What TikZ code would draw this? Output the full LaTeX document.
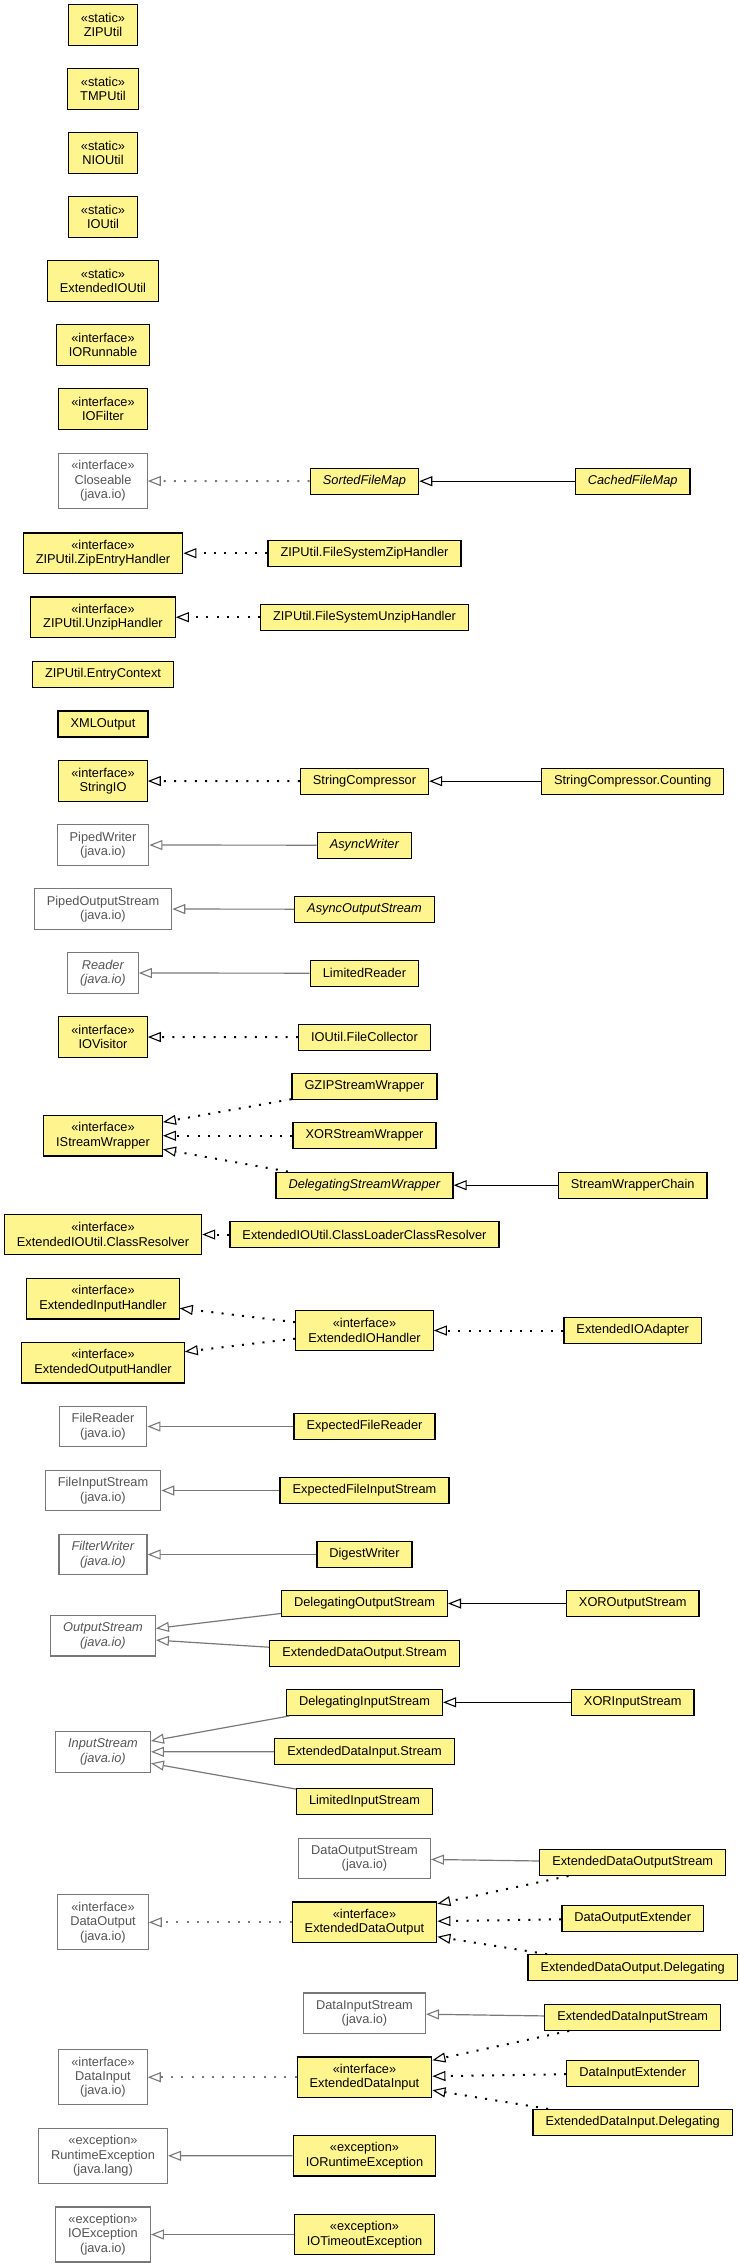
\documentclass[tikz,border=0pt]{standalone}
\usepackage{fontspec}
\setmainfont{Liberation Sans}
\usetikzlibrary{arrows.meta}
\tikzstyle{diagram} = [x = 1pt, y = -1pt, every node/.style={font=\fontsize{12.8}{14.4}\selectfont}]
\definecolor{classColor}{RGB}{255,245,143}
\definecolor{externalColor}{RGB}{120,120,120}
\definecolor{externalText}{RGB}{85,85,85}
\tikzstyle{boxStyle} = [align=center, inner xsep=12.5pt, inner ysep=0pt, minimum height=26pt]
\tikzstyle{classStyle} = [boxStyle, draw=black, fill=classColor, line width=1.3pt]
\tikzstyle{externalStyle} = [boxStyle, draw=externalColor, fill=white, text=externalText, line width=1.2pt]
\tikzstyle{twoLines} = [minimum height=40.6pt]
\tikzstyle{threeLines} = [minimum height=55pt]
\tikzstyle{extendsEdge} = [line width=1.2pt, -{Triangle[open, length=13pt, width=10pt, line width=1.1pt]}]
\tikzstyle{implementsEdge} = [extendsEdge, line width=2pt, dash pattern=on 2pt off 8.3pt]
\tikzstyle{externalEdge} = [color=externalColor]
\newcommand{\leftColumn}{103}
\newcommand{\middleColumn}{364.5}
\newcommand{\rightColumn}{632.7}
\newcommand{\classBox}[4]{\node [classStyle, #4] (#1) at (#2) {#3};}
\newcommand{\externalBox}[4]{\node [externalStyle, #4] (#1) at (#2) {#3};}

\begin{document}
\begin{tikzpicture}[diagram]
          \useasboundingbox (0,0) rectangle (739,2267);

          \classBox{zipUtil}{\leftColumn, 25}{«static»\\ZIPUtil}{twoLines}
          \classBox{tmpUtil}{\leftColumn, 89}{«static»\\TMPUtil}{twoLines}
          \classBox{nioUtil}{\leftColumn, 153}{«static»\\NIOUtil}{twoLines}
          \classBox{ioUtil}{\leftColumn, 217}{«static»\\IOUtil}{twoLines}
          \classBox{extendedIOUtil}{\leftColumn, 281}{«static»\\ExtendedIOUtil}{twoLines}
          \classBox{ioRunnable}{\leftColumn, 345}{«interface»\\IORunnable}{twoLines}
          \classBox{ioFilter}{\leftColumn, 409}{«interface»\\IOFilter}{twoLines}

          \externalBox{closeable}{\leftColumn, 481}{«interface»\\Closeable\\(java.io)}{threeLines}
          \classBox{sortedFileMap}{\middleColumn, 481.2}{\textit{SortedFileMap}}{}
          \classBox{cachedFileMap}{\rightColumn, 481.2}{\textit{CachedFileMap}}{}

          \classBox{zipEntryHandler}{\leftColumn, 553.2}{«interface»\\ZIPUtil.ZipEntryHandler}{twoLines}
          \classBox{fileSystemZipHandler}{\middleColumn, 553.2}{ZIPUtil.FileSystemZipHandler}{}
          \classBox{unzipHandler}{\leftColumn, 617.2}{«interface»\\ZIPUtil.UnzipHandler}{twoLines}
          \classBox{fileSystemUnzipHandler}{\middleColumn, 617.2}{ZIPUtil.FileSystemUnzipHandler}{}
          \classBox{entryContext}{\leftColumn, 674.5}{ZIPUtil.EntryContext}{}
          \classBox{xmlOutput}{\leftColumn, 723.9}{XMLOutput}{}

          \classBox{stringIO}{\leftColumn, 781}{«interface»\\StringIO}{twoLines}
          \classBox{stringCompressor}{\middleColumn, 781.2}{StringCompressor}{}
          \classBox{stringCompressorCounting}{\rightColumn, 781.2}{StringCompressor.Counting}{}

          \externalBox{pipedWriter}{\leftColumn, 845}{PipedWriter\\(java.io)}{twoLines}
          \classBox{asyncWriter}{\middleColumn, 845.2}{\textit{AsyncWriter}}{}
          \externalBox{pipedOutputStream}{\leftColumn, 909}{PipedOutputStream\\(java.io)}{twoLines}
          \classBox{asyncOutputStream}{\middleColumn, 909.2}{\textit{AsyncOutputStream}}{}
          \externalBox{reader}{\leftColumn, 973}{\textit{Reader}\\\textit{(java.io)}}{twoLines}
          \classBox{limitedReader}{\middleColumn, 973.2}{LimitedReader}{}
          \classBox{ioVisitor}{\leftColumn, 1037}{«interface»\\IOVisitor}{twoLines}
          \classBox{fileCollector}{\middleColumn, 1037.2}{IOUtil.FileCollector}{}

          \classBox{gzipStreamWrapper}{\middleColumn, 1086.2}{GZIPStreamWrapper}{}
          \classBox{iStreamWrapper}{\leftColumn, 1135.7}{«interface»\\IStreamWrapper}{twoLines}
          \classBox{xorStreamWrapper}{\middleColumn, 1135.7}{XORStreamWrapper}{}
          \classBox{delegatingStreamWrapper}{\middleColumn, 1185.2}{\textit{DelegatingStreamWrapper}}{}
          \classBox{streamWrapperChain}{\rightColumn, 1185.2}{StreamWrapperChain}{}

          \classBox{classResolver}{\leftColumn, 1234.5}{«interface»\\ExtendedIOUtil.ClassResolver}{twoLines}
          \classBox{classLoaderClassResolver}{\middleColumn, 1234.5}{ExtendedIOUtil.ClassLoaderClassResolver}{}

          \classBox{extendedInputHandler}{\leftColumn, 1298.7}{«interface»\\ExtendedInputHandler}{twoLines}
          \classBox{extendedIOHandler}{\middleColumn, 1330.5}{«interface»\\ExtendedIOHandler}{twoLines}
          \classBox{extendedIOAdapter}{\rightColumn, 1330.5}{ExtendedIOAdapter}{}
          \classBox{extendedOutputHandler}{\leftColumn, 1362.7}{«interface»\\ExtendedOutputHandler}{twoLines}

          \externalBox{fileReader}{\leftColumn, 1426.5}{FileReader\\(java.io)}{twoLines}
          \classBox{expectedFileReader}{\middleColumn, 1426.5}{ExpectedFileReader}{}
          \externalBox{fileInputStream}{\leftColumn, 1490.5}{FileInputStream\\(java.io)}{twoLines}
          \classBox{expectedFileInputStream}{\middleColumn, 1490.5}{ExpectedFileInputStream}{}
          \externalBox{filterWriter}{\leftColumn, 1554.5}{\textit{FilterWriter}\\\textit{(java.io)}}{twoLines}
          \classBox{digestWriter}{\middleColumn, 1554.5}{DigestWriter}{}

          \classBox{delegatingOutputStream}{\middleColumn, 1603.5}{DelegatingOutputStream}{}
          \classBox{xorOutputStream}{\rightColumn, 1603.5}{XOROutputStream}{}
          \externalBox{outputStream}{\leftColumn, 1635.7}{\textit{OutputStream}\\\textit{(java.io)}}{twoLines}
          \classBox{outputStreamNested}{\middleColumn, 1653.2}{ExtendedDataOutput.Stream}{}

          \classBox{delegatingInputStream}{\middleColumn, 1702.3}{DelegatingInputStream}{}
          \classBox{xorInputStream}{\rightColumn, 1702.3}{XORInputStream}{}
          \externalBox{inputStream}{\leftColumn, 1751.8}{\textit{InputStream}\\\textit{(java.io)}}{twoLines}
          \classBox{inputStreamNested}{\middleColumn, 1751.7}{ExtendedDataInput.Stream}{}
          \classBox{limitedInputStream}{\middleColumn, 1801.2}{LimitedInputStream}{}

          \externalBox{dataOutputStream}{\middleColumn, 1858.5}{DataOutputStream\\(java.io)}{twoLines}
          \classBox{extendedDataOutputStream}{\rightColumn, 1862.3}{ExtendedDataOutputStream}{}
          \externalBox{dataOutput}{\leftColumn, 1922.3}{«interface»\\DataOutput\\(java.io)}{threeLines}
          \classBox{extendedDataOutput}{\middleColumn, 1922.3}{«interface»\\ExtendedDataOutput}{twoLines}
          \classBox{dataOutputExtender}{\rightColumn, 1918.2}{DataOutputExtender}{}
          \classBox{dataOutputDelegating}{\rightColumn, 1967.8}{ExtendedDataOutput.Delegating}{}

          \externalBox{dataInputStream}{\middleColumn, 2013.3}{DataInputStream\\(java.io)}{twoLines}
          \classBox{extendedDataInputStream}{\rightColumn, 2017.2}{ExtendedDataInputStream}{}
          \externalBox{dataInput}{\leftColumn, 2077.2}{«interface»\\DataInput\\(java.io)}{threeLines}
          \classBox{extendedDataInput}{\middleColumn, 2077.2}{«interface»\\ExtendedDataInput}{twoLines}
          \classBox{dataInputExtender}{\rightColumn, 2073.2}{DataInputExtender}{}
          \classBox{dataInputDelegating}{\rightColumn, 2122.5}{ExtendedDataInput.Delegating}{}

          \externalBox{runtimeException}{\leftColumn, 2155.8}{«exception»\\RuntimeException\\(java.lang)}{threeLines}
          \classBox{ioRuntimeException}{\middleColumn, 2155.7}{«exception»\\IORuntimeException}{twoLines}
          \externalBox{ioException}{\leftColumn, 2234.5}{«exception»\\IOException\\(java.io)}{threeLines}
          \classBox{ioTimeoutException}{\middleColumn, 2234.5}{«exception»\\IOTimeoutException}{twoLines}

          \draw [implementsEdge, externalEdge] (sortedFileMap) -- (closeable);
          \draw [extendsEdge] (cachedFileMap) -- (sortedFileMap);
          \draw [implementsEdge] (fileSystemZipHandler) -- (zipEntryHandler);
          \draw [implementsEdge] (fileSystemUnzipHandler) -- (unzipHandler);
          \draw [implementsEdge] (stringCompressor) -- (stringIO);
          \draw [extendsEdge] (stringCompressorCounting) -- (stringCompressor);
          \draw [extendsEdge, externalEdge] (asyncWriter) -- (pipedWriter);
          \draw [extendsEdge, externalEdge] (asyncOutputStream) -- (pipedOutputStream);
          \draw [extendsEdge, externalEdge] (limitedReader) -- (reader);
          \draw [implementsEdge] (fileCollector) -- (ioVisitor);
          \draw [implementsEdge] (gzipStreamWrapper) -- ([yshift=13.6pt]iStreamWrapper.east);
          \draw [implementsEdge] (xorStreamWrapper) -- (iStreamWrapper);
          \draw [implementsEdge] (delegatingStreamWrapper) -- ([yshift=-13.6pt]iStreamWrapper.east);
          \draw [extendsEdge] (streamWrapperChain) -- (delegatingStreamWrapper);
          \draw [implementsEdge] (classLoaderClassResolver) -- (classResolver);
          \draw [implementsEdge] (extendedIOHandler) -- ([yshift=-9.6pt]extendedInputHandler.east);
          \draw [implementsEdge] (extendedIOHandler) -- ([yshift=11pt]extendedOutputHandler.east);
          \draw [implementsEdge] (extendedIOAdapter) -- (extendedIOHandler);
          \draw [extendsEdge, externalEdge] (expectedFileReader) -- (fileReader);
          \draw [extendsEdge, externalEdge] (expectedFileInputStream) -- (fileInputStream);
          \draw [extendsEdge, externalEdge] (digestWriter) -- (filterWriter);
          \draw [extendsEdge, externalEdge] (delegatingOutputStream) -- ([yshift=7.3pt]outputStream.east);
          \draw [extendsEdge, externalEdge] (outputStreamNested) -- ([yshift=-4.4pt]outputStream.east);
          \draw [extendsEdge] (xorOutputStream) -- (delegatingOutputStream);
          \draw [extendsEdge, externalEdge] (delegatingInputStream) -- ([yshift=10.8pt]inputStream.east);
          \draw [extendsEdge, externalEdge] (inputStreamNested) -- (inputStream);
          \draw [extendsEdge, externalEdge] (limitedInputStream) -- ([yshift=-11.5pt]inputStream.east);
          \draw [extendsEdge] (xorInputStream) -- (delegatingInputStream);
          \draw [extendsEdge, externalEdge] (extendedDataOutputStream) -- (dataOutputStream);
          \draw [implementsEdge, externalEdge] (extendedDataOutput) -- (dataOutput);
          \draw [implementsEdge] (extendedDataOutputStream) -- ([yshift=18.5pt]extendedDataOutput.east);
          \draw [implementsEdge] (dataOutputExtender) -- (extendedDataOutput);
          \draw [implementsEdge] (dataOutputDelegating) -- ([yshift=-14.4pt]extendedDataOutput.east);
          \draw [extendsEdge, externalEdge] (extendedDataInputStream) -- (dataInputStream);
          \draw [implementsEdge, externalEdge] (extendedDataInput) -- (dataInput);
          \draw [implementsEdge] (extendedDataInputStream) -- ([yshift=17pt]extendedDataInput.east);
          \draw [implementsEdge] (dataInputExtender) -- (extendedDataInput);
          \draw [implementsEdge] (dataInputDelegating) -- ([yshift=-13pt]extendedDataInput.east);
          \draw [extendsEdge, externalEdge] (ioRuntimeException) -- (runtimeException);
          \draw [extendsEdge, externalEdge] (ioTimeoutException) -- (ioException);
        \end{tikzpicture}
\end{document}
